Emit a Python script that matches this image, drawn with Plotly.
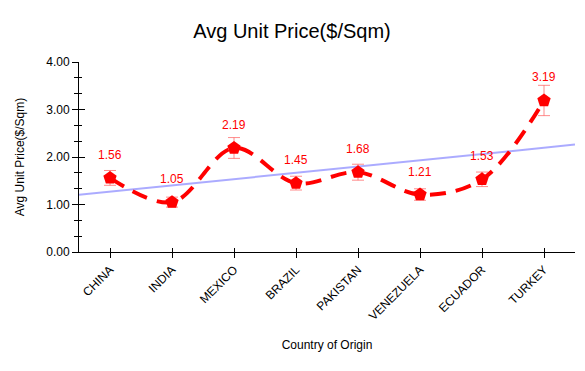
import plotly.graph_objects as go
import numpy as np

countries = ["CHINA", "INDIA", "MEXICO", "BRAZIL", "PAKISTAN", "VENEZUELA", "ECUADOR", "TURKEY"]
prices = [1.56, 1.05, 2.19, 1.45, 1.68, 1.21, 1.53, 3.19]
errors = [0.156, 0.105, 0.219, 0.145, 0.168, 0.121, 0.153, 0.319]
y_ticks = [0, 1, 2, 3, 4]

idx = np.arange(len(countries))
slope, intercept = np.polyfit(idx, prices, 1)
trend_x = np.array([-0.5, len(countries) - 0.5])
trend_y = slope * trend_x + intercept

fig = go.Figure()
fig.add_trace(go.Scatter(
    x=trend_x, y=trend_y, mode="lines",
    line=dict(color="rgba(150,150,255,0.8)", width=2),
    hoverinfo="skip", showlegend=False,
))
fig.add_trace(go.Scatter(
    x=idx, y=prices, mode="lines+markers",
    line=dict(color="#ff0000", width=4, dash="16px,10px", shape="spline", smoothing=1.0),
    marker=dict(symbol="pentagon", size=14, color="#ff0000"),
    error_y=dict(type="data", array=errors, visible=True,
                 color="rgba(255,90,90,0.7)", thickness=1, width=6),
    showlegend=False,
))
# invisible trace to activate overlay axes (inside ticks -> crossing ticks)
fig.add_trace(go.Scatter(x=[0], y=[0], xaxis="x2", yaxis="y2", mode="markers",
                         marker=dict(opacity=0), hoverinfo="skip", showlegend=False))
for i, v in enumerate(prices):
    fig.add_annotation(x=i, y=v, text=f"{v:.2f}", showarrow=False, yshift=23,
                       font=dict(color="#ff0000", size=12))

xr = [-0.5, len(countries) - 0.5]
# page body has an 8px margin; compensate in figure margins
fig.update_layout(
    width=585, height=371,
    margin=dict(l=71, r=18, t=54, b=127),
    paper_bgcolor="white", plot_bgcolor="white",
    font=dict(family="Liberation Sans, Arial, sans-serif", color="black"),
    title=dict(text="Avg Unit Price($/Sqm)", x=284 / 585, xanchor="center",
               xref="container", yref="container", y=1 - 23 / 371, yanchor="middle",
               font=dict(size=20, color="black")),
    xaxis=dict(
        range=xr, tickmode="array", tickvals=list(idx), ticktext=countries,
        tickangle=-45, ticks="outside", ticklen=5, tickcolor="black",
        showline=True, linecolor="black", linewidth=1, showgrid=False, zeroline=False,
        tickfont=dict(size=12), automargin=False,
        title=dict(text="Country of Origin", font=dict(size=12), standoff=18),
    ),
    yaxis=dict(
        range=[0, 4], tickmode="array", tickvals=y_ticks,
        ticktext=[f"{t:.2f}" for t in y_ticks],
        ticks="outside", ticklen=6, tickcolor="black",
        minor=dict(ticks="outside", ticklen=4, tickvals=[k / 3 for k in range(13)],
                   tickcolor="black", showgrid=False),
        showline=True, linecolor="black", linewidth=1, showgrid=False, zeroline=False,
        tickfont=dict(size=12), automargin=False,
        title=dict(text="Avg Unit Price($/Sqm)", font=dict(size=12), standoff=19),
    ),
    xaxis2=dict(overlaying="x", range=xr, tickmode="array", tickvals=list(idx),
                ticks="inside", ticklen=4, tickcolor="black", showticklabels=False,
                showgrid=False, zeroline=False, showline=False, automargin=False),
    yaxis2=dict(overlaying="y", range=[0, 4], tickmode="array", tickvals=y_ticks,
                ticks="inside", ticklen=6, tickcolor="black", showticklabels=False,
                minor=dict(ticks="inside", ticklen=3, tickvals=[k / 3 for k in range(13)],
                           tickcolor="black", showgrid=False),
                showgrid=False, zeroline=False, showline=False, automargin=False),
)
fig.write_html("out.html")
